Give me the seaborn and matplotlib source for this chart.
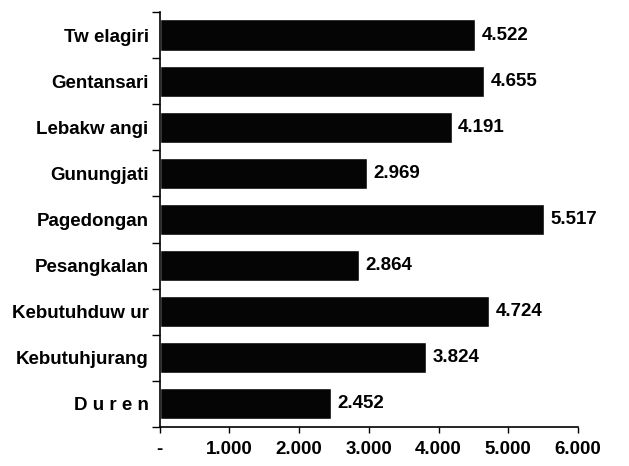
import pandas as pd
import seaborn as sns
import matplotlib.pyplot as plt
from matplotlib.ticker import FixedLocator, FuncFormatter

# data
villages = ["Tw elagiri", "Gentansari", "Lebakw angi", "Gunungjati", "Pagedongan",
            "Pesangkalan", "Kebutuhduw ur", "Kebutuhjurang", "D u r e n"]
values = [4522, 4655, 4191, 2969, 5517, 2864, 4724, 3824, 2452]
xticks = [0, 1000, 2000, 3000, 4000, 5000, 6000]

df = pd.DataFrame({"village": villages, "value": values})

sns.set_style("white")
plt.rcParams["font.family"] = ["Liberation Sans", "DejaVu Sans"]
plt.rcParams["text.color"] = "black"
plt.rcParams["xtick.color"] = "black"
plt.rcParams["ytick.color"] = "black"


def dotted(v, pos=None):
    # thousands with a dot, zero shown as a dash (Excel accounting style)
    if v == 0:
        return "-"
    return f"{int(round(v)):,}".replace(",", ".")


fig = plt.figure(figsize=(6.29, 4.66), dpi=100)
ax = fig.add_axes([0.254, 0.084, 0.665, 0.89])

sns.barplot(data=df, x="value", y="village", orient="h", color="#050505",
            width=0.68, ax=ax, saturation=1)

for p, v in zip(ax.patches, values):
    ax.text(p.get_width() + 90, p.get_y() + p.get_height() / 2, dotted(v),
            va="center", ha="left", fontsize=13.5, fontweight="bold",
            color="black", clip_on=False)

ax.set_xlim(0, 6000)
ax.set_ylim(len(villages) - 0.5, -0.5)
ax.xaxis.set_major_locator(FixedLocator(xticks))
ax.xaxis.set_major_formatter(FuncFormatter(dotted))

# y ticks sit between the categories
ax.set_yticks(range(len(villages)))
ax.set_yticklabels(villages)
ax.yaxis.set_minor_locator(FixedLocator([i - 0.5 for i in range(len(villages) + 1)]))
ax.tick_params(axis="y", which="major", left=True, length=0, pad=8, labelsize=13.5,
               labelcolor="black")
ax.tick_params(axis="y", which="minor", left=True, length=6, width=1,
               color="black", direction="out")
ax.tick_params(axis="x", which="major", bottom=True, length=4, width=1, color="black",
               direction="out", labelsize=13.5, pad=6, labelcolor="black")
for lab in ax.get_xticklabels() + ax.get_yticklabels():
    lab.set_fontweight("bold")

ax.set_xlabel("")
ax.set_ylabel("")
sns.despine(ax=ax, top=True, right=True)
for s in ["left", "bottom"]:
    ax.spines[s].set_color("black")
    ax.spines[s].set_linewidth(1.2)

fig.savefig("out.png", dpi=100)
